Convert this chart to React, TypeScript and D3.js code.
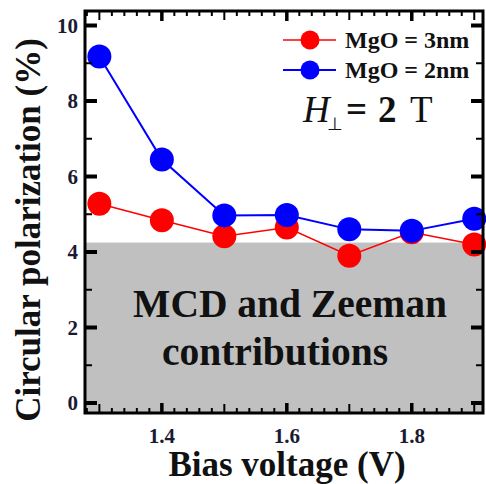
import React from "react";
import * as d3 from "d3";

const biasVoltage = [1.3, 1.4, 1.5, 1.6, 1.7, 1.8, 1.9];
const mgo3nm = [5.28, 4.84, 4.42, 4.65, 3.9, 4.52, 4.2];
const mgo2nm = [9.18, 6.45, 4.97, 4.98, 4.6, 4.56, 4.88];
const xTicks = [1.4, 1.6, 1.8];
const yTicks = [0, 2, 4, 6, 8, 10];
const backgroundLevel = 4.25;

const W = 486, H = 484;
const L = 85, R = 483, T = 11, B = 413;

export default function App() {
  const x = d3.scaleLinear().domain([1.277, 1.914]).range([L, R]);
  const y = d3.scaleLinear().domain([0, 10]).range([403, 25.5]);
  const line = d3.line<number>().x((_, i) => x(biasVoltage[i])).y((d) => y(d));

  const minorX = d3.range(1.28, 1.915, 0.02).map((v) => +v.toFixed(2));
  const xTickLen = (v: number) => {
    const r = Math.round(v * 100);
    if (r % 20 === 0) return 10;
    if (r % 10 === 0) return 9;
    return 5;
  };
  const yAll = d3.range(0, 11, 1);
  const font = "'Liberation Serif', 'Times New Roman', serif";

  return (
    <svg width={W} height={H} style={{ position: "absolute", left: 0, top: 0 }} fontFamily={font}>
      <rect x={0} y={0} width={W} height={H} fill="#fff" />
      <rect x={L} y={y(backgroundLevel)} width={R - L} height={B - y(backgroundLevel)} fill="#c0c0c0" />
      <text x={290} y={317} textAnchor="middle" fontSize={39.5} fontWeight="bold" fill="#111">MCD and Zeeman</text>
      <text x={275} y={365} textAnchor="middle" fontSize={39.5} fontWeight="bold" fill="#111">contributions</text>

      <path d={line(mgo3nm) || ""} fill="none" stroke="#ff0000" strokeWidth={1.5} />
      <path d={line(mgo2nm) || ""} fill="none" stroke="#0000ff" strokeWidth={2} />
      {mgo3nm.map((v, i) => (
        <circle key={"r" + i} cx={x(biasVoltage[i])} cy={y(v)} r={12} fill="#ff0000" />
      ))}
      {mgo2nm.map((v, i) => (
        <circle key={"b" + i} cx={x(biasVoltage[i])} cy={y(v)} r={12} fill="#0000ff" />
      ))}

      {minorX.map((v) => (
        <g key={"xt" + v}>
          <line x1={x(v)} x2={x(v)} y1={B} y2={B - xTickLen(v)} stroke="#000" strokeWidth={xTickLen(v) === 10 ? 3.5 : 2} />
          <line x1={x(v)} x2={x(v)} y1={T} y2={T + xTickLen(v)} stroke="#000" strokeWidth={xTickLen(v) === 10 ? 3.5 : 2} />
        </g>
      ))}
      {yAll.map((v) => (
        <g key={"yt" + v}>
          <line x1={L} x2={L + (v % 2 === 0 ? 12 : 7)} y1={y(v)} y2={y(v)} stroke="#000" strokeWidth={v % 2 === 0 ? 4 : 2} />
          <line x1={R} x2={R - (v % 2 === 0 ? 12 : 7)} y1={y(v)} y2={y(v)} stroke="#000" strokeWidth={v % 2 === 0 ? 4 : 2} />
        </g>
      ))}
      <rect x={L} y={T} width={R - L} height={B - T} fill="none" stroke="#000" strokeWidth={3} />

      {yTicks.map((v) => (
        <text key={"yl" + v} x={L - 7} y={y(v) + 7} textAnchor="end" fontSize={21} fontWeight="bold" fill="#1a1a33">{v}</text>
      ))}
      {xTicks.map((v) => (
        <text key={"xl" + v} x={x(v)} y={443} textAnchor="middle" fontSize={21} fontWeight="bold" fill="#1a1a33">{v.toFixed(1)}</text>
      ))}
      <text x={287} y={476} textAnchor="middle" fontSize={35} fontWeight="bold" fill="#111">Bias voltage (V)</text>
      <text transform="translate(40,230) rotate(-90)" textAnchor="middle" fontSize={35} fontWeight="bold" fill="#111">Circular polarization (%)</text>

      <line x1={283} x2={336} y1={40} y2={40} stroke="#ff0000" strokeWidth={1.5} />
      <circle cx={310} cy={40} r={9.5} fill="#ff0000" />
      <text x={345} y={48} fontSize={24} fontWeight="bold" fill="#111">MgO = 3nm</text>
      <line x1={283} x2={336} y1={70} y2={70} stroke="#0000ff" strokeWidth={2} />
      <circle cx={310} cy={70} r={9.5} fill="#0000ff" />
      <text x={345} y={78} fontSize={24} fontWeight="bold" fill="#111">MgO = 2nm</text>

      <text x={303} y={122} fontSize={37} fontStyle="italic" fill="#111">H</text>
      <text x={327} y={130} fontSize={18} fill="#111">⊥</text>
      <text x={346} y={122} fontSize={37} fontWeight="bold" fill="#111">=</text>
      <text x={378} y={122} fontSize={37} fontWeight="bold" fill="#111">2</text>
      <text x={410} y={122} fontSize={37} fill="#111">T</text>
    </svg>
  );
}
